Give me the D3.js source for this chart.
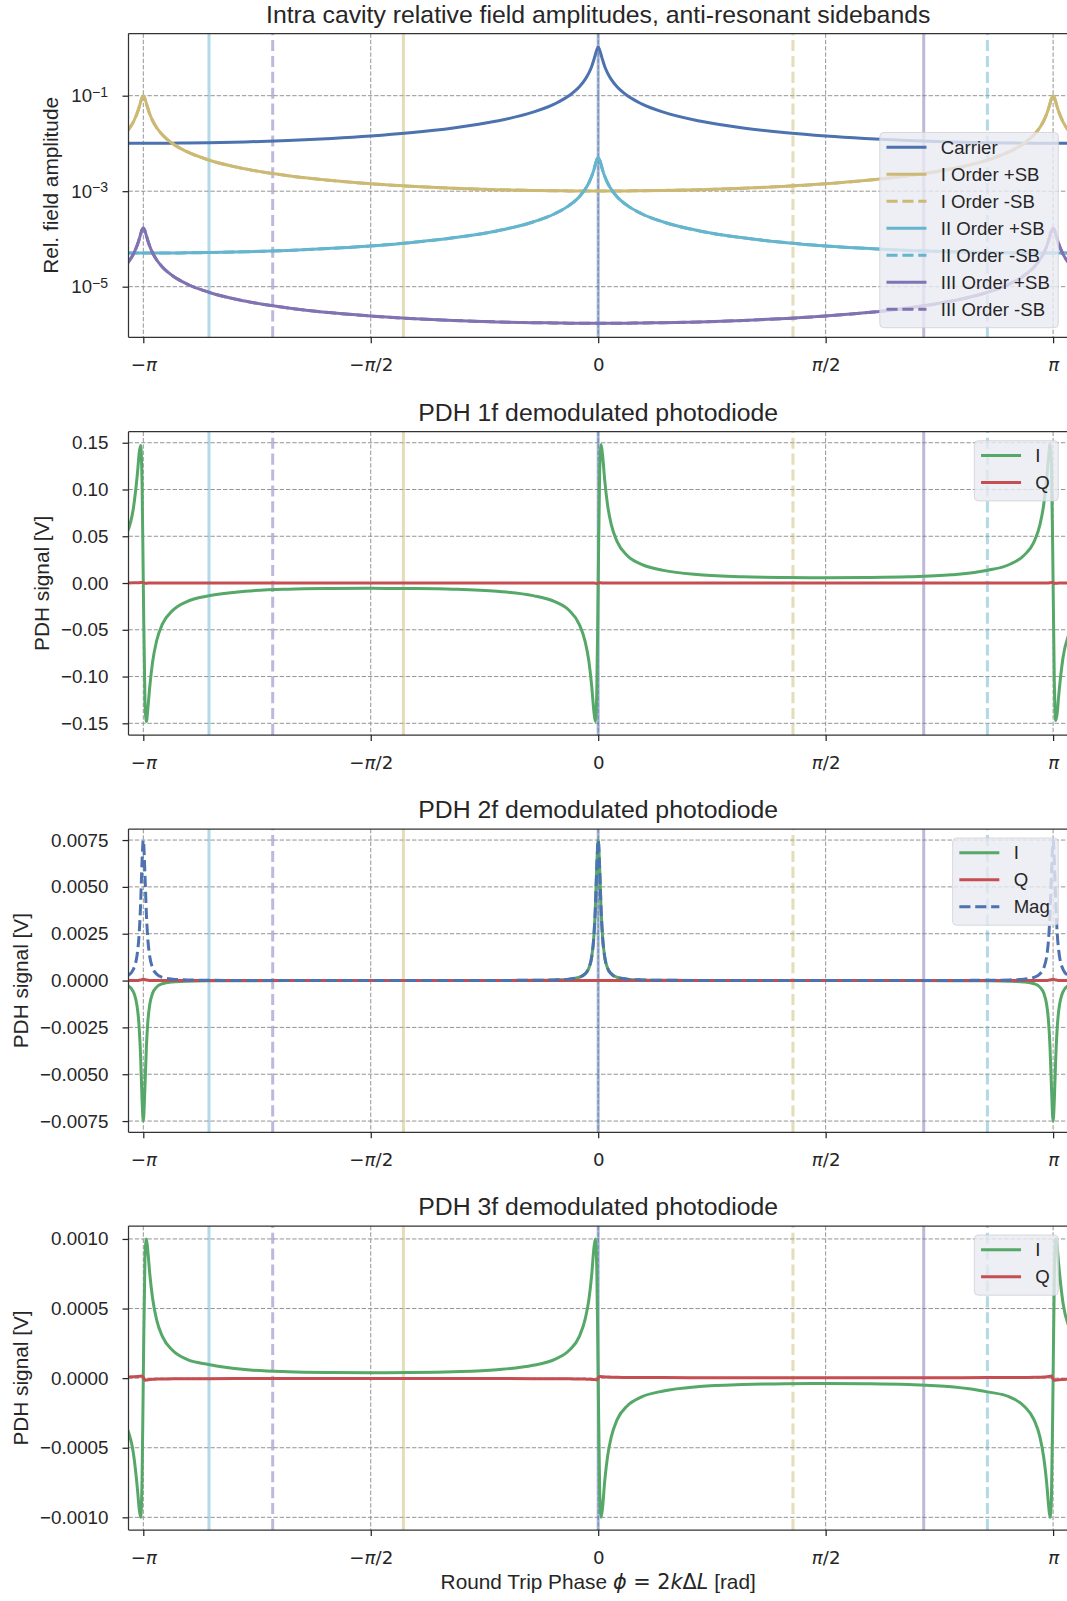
<!DOCTYPE html>
<html>
<head>
<meta charset="utf-8">
<script src="https://cdn.jsdelivr.net/npm/d3@7/dist/d3.min.js"></script>
<style>
  html,body{margin:0;padding:0;background:#fff;}
  svg{display:block;}
  text{white-space:pre;}
</style>
</head>
<body>
<script>
// ---------------- DATA ----------------
const phase = [-3.25,-3.21,-3.18,-3.17,-3.16,-3.15, -3.1416, -3.13,-3.12,-3.11,-3.097,-3.077,-3.05,-3.01,-2.94,-2.84,-2.69,-2.44,-2.14,-1.84, -1.5708, -1.3,-1.0,-0.7,-0.45,-0.3,-0.2,-0.13,-0.09,-0.065,-0.045,-0.03,-0.02,-0.01, 0, 0.01,0.02,0.03,0.045,0.065,0.09,0.13,0.2,0.3,0.45,0.7,1.0,1.3, 1.5708, 1.84,2.14,2.44,2.69,2.84,2.94,3.01,3.05,3.077,3.097,3.11,3.12,3.13, 3.1416, 3.15,3.16,3.17,3.18,3.21,3.25];

const carrier = [0.0101,0.0101,0.0101,0.0101,0.0101,0.0101, 0.0101, 0.0101,0.0101,0.0101,0.0101,0.0101,0.0101,0.0101,0.01015,0.01022,0.01037,0.01076,0.01152,0.0127, 0.01428, 0.01669,0.02107,0.02945,0.04523,0.0674,0.1007,0.1537,0.2191,0.2968,0.4096,0.565,0.72,0.91, 1.05, 0.91,0.72,0.565,0.4096,0.2968,0.2191,0.1537,0.1007,0.0674,0.04523,0.02945,0.02107,0.01669, 0.01428, 0.0127,0.01152,0.01076,0.01037,0.01022,0.01015,0.0101,0.0101,0.0101,0.0101,0.0101,0.0101,0.0101, 0.0101, 0.0101,0.0101,0.0101,0.0101,0.0101,0.0101];

const sb1Plus = [0.01833,0.02833,0.04656,0.05797,0.07393,0.09234, 0.1, 0.08672,0.06831,0.05387,0.04127,0.02985,0.02155,0.01519,0.00999,0.00671,0.004507,0.002939,0.002104,0.001667, 0.001428, 0.001269,0.001151,0.0010755,0.0010365,0.0010217,0.001015,0.00101,0.00101,0.00101,0.00101,0.00101,0.00101,0.00101, 0.00101, 0.00101,0.00101,0.00101,0.00101,0.00101,0.00101,0.00101,0.001015,0.0010217,0.0010365,0.0010755,0.001151,0.001269, 0.001428, 0.001667,0.002104,0.002939,0.004507,0.00671,0.00999,0.01519,0.02155,0.02985,0.04127,0.05387,0.06831,0.08672, 0.1, 0.09234,0.07393,0.05797,0.04656,0.02833,0.01833];
const sb1Minus = [0.01833,0.02833,0.04656,0.05797,0.07393,0.09234, 0.1, 0.08672,0.06831,0.05387,0.04127,0.02985,0.02155,0.01519,0.00999,0.00671,0.004507,0.002939,0.002104,0.001667, 0.001428, 0.001269,0.001151,0.0010755,0.0010365,0.0010217,0.001015,0.00101,0.00101,0.00101,0.00101,0.00101,0.00101,0.00101, 0.00101, 0.00101,0.00101,0.00101,0.00101,0.00101,0.00101,0.00101,0.001015,0.0010217,0.0010365,0.0010755,0.001151,0.001269, 0.001428, 0.001667,0.002104,0.002939,0.004507,0.00671,0.00999,0.01519,0.02155,0.02985,0.04127,0.05387,0.06831,0.08672, 0.1, 0.09234,0.07393,0.05797,0.04656,0.02833,0.01833];

const sb2Plus = [5.05e-5,5.05e-5,5.05e-5,5.05e-5,5.05e-5,5.05e-5, 5.05e-5, 5.05e-5,5.05e-5,5.05e-5,5.05e-5,5.05e-5,5.05e-5,5.05e-5,5.075e-5,5.11e-5,5.185e-5,5.38e-5,5.76e-5,6.35e-5, 7.14e-5, 8.35e-5,1.054e-4,1.473e-4,2.262e-4,3.37e-4,5.04e-4,7.69e-4,1.096e-3,1.484e-3,2.048e-3,2.795e-3,3.6e-3,4.55e-3, 5.1e-3, 4.55e-3,3.6e-3,2.795e-3,2.048e-3,1.484e-3,1.096e-3,7.69e-4,5.04e-4,3.37e-4,2.262e-4,1.473e-4,1.054e-4,8.35e-5, 7.14e-5, 6.35e-5,5.76e-5,5.38e-5,5.185e-5,5.11e-5,5.075e-5,5.05e-5,5.05e-5,5.05e-5,5.05e-5,5.05e-5,5.05e-5,5.05e-5, 5.05e-5, 5.05e-5,5.05e-5,5.05e-5,5.05e-5,5.05e-5,5.05e-5];
const sb2Minus = [5.05e-5,5.05e-5,5.05e-5,5.05e-5,5.05e-5,5.05e-5, 5.05e-5, 5.05e-5,5.05e-5,5.05e-5,5.05e-5,5.05e-5,5.05e-5,5.05e-5,5.075e-5,5.11e-5,5.185e-5,5.38e-5,5.76e-5,6.35e-5, 7.14e-5, 8.35e-5,1.054e-4,1.473e-4,2.262e-4,3.37e-4,5.04e-4,7.69e-4,1.096e-3,1.484e-3,2.048e-3,2.795e-3,3.6e-3,4.55e-3, 5.1e-3, 4.55e-3,3.6e-3,2.795e-3,2.048e-3,1.484e-3,1.096e-3,7.69e-4,5.04e-4,3.37e-4,2.262e-4,1.473e-4,1.054e-4,8.35e-5, 7.14e-5, 6.35e-5,5.76e-5,5.38e-5,5.185e-5,5.11e-5,5.075e-5,5.05e-5,5.05e-5,5.05e-5,5.05e-5,5.05e-5,5.05e-5,5.05e-5, 5.05e-5, 5.05e-5,5.05e-5,5.05e-5,5.05e-5,5.05e-5,5.05e-5];

const sb3Plus = [3.12e-5,4.82e-5,7.92e-5,9.86e-5,1.257e-4,1.57e-4, 1.7e-4, 1.474e-4,1.161e-4,9.16e-5,7.02e-5,5.07e-5,3.66e-5,2.58e-5,1.7e-5,1.14e-5,7.66e-6,5.0e-6,3.58e-6,2.83e-6, 2.43e-6, 2.16e-6,1.96e-6,1.83e-6,1.76e-6,1.74e-6,1.725e-6,1.717e-6,1.717e-6,1.717e-6,1.717e-6,1.717e-6,1.717e-6,1.717e-6, 1.717e-6, 1.717e-6,1.717e-6,1.717e-6,1.717e-6,1.717e-6,1.717e-6,1.717e-6,1.725e-6,1.74e-6,1.76e-6,1.83e-6,1.96e-6,2.16e-6, 2.43e-6, 2.83e-6,3.58e-6,5.0e-6,7.66e-6,1.14e-5,1.7e-5,2.58e-5,3.66e-5,5.07e-5,7.02e-5,9.16e-5,1.161e-4,1.474e-4, 1.7e-4, 1.57e-4,1.257e-4,9.86e-5,7.92e-5,4.82e-5,3.12e-5];
const sb3Minus = [3.12e-5,4.82e-5,7.92e-5,9.86e-5,1.257e-4,1.57e-4, 1.7e-4, 1.474e-4,1.161e-4,9.16e-5,7.02e-5,5.07e-5,3.66e-5,2.58e-5,1.7e-5,1.14e-5,7.66e-6,5.0e-6,3.58e-6,2.83e-6, 2.43e-6, 2.16e-6,1.96e-6,1.83e-6,1.76e-6,1.74e-6,1.725e-6,1.717e-6,1.717e-6,1.717e-6,1.717e-6,1.717e-6,1.717e-6,1.717e-6, 1.717e-6, 1.717e-6,1.717e-6,1.717e-6,1.717e-6,1.717e-6,1.717e-6,1.717e-6,1.725e-6,1.74e-6,1.76e-6,1.83e-6,1.96e-6,2.16e-6, 2.43e-6, 2.83e-6,3.58e-6,5.0e-6,7.66e-6,1.14e-5,1.7e-5,2.58e-5,3.66e-5,5.07e-5,7.02e-5,9.16e-5,1.161e-4,1.474e-4, 1.7e-4, 1.57e-4,1.257e-4,9.86e-5,7.92e-5,4.82e-5,3.12e-5];

const pdh1I = [0.055,0.080,0.121,0.139,0.147,0.106, 0, -0.128,-0.148,-0.134,-0.111,-0.084,-0.062,-0.044,-0.0295,-0.0198,-0.0136,-0.0088,-0.0066,-0.0059, -0.0057, -0.0059,-0.0066,-0.0088,-0.0135,-0.0199,-0.0294,-0.0445,-0.0627,-0.083,-0.110,-0.137,-0.148,-0.118, 0, 0.118,0.148,0.137,0.110,0.083,0.0627,0.0445,0.0294,0.0199,0.0135,0.0088,0.0066,0.0059, 0.0057, 0.0059,0.0066,0.0088,0.0136,0.0198,0.0295,0.044,0.062,0.084,0.111,0.134,0.148,0.128, 0, -0.106,-0.147,-0.139,-0.121,-0.080,-0.055];
const pdh1Q = [0.0001,0.0002,0.0003,0.0004,0.0005,0.0006, 0.0006, -0.0003,-0.0002,-0.0001,0,0,0,0,0,0,0,0,0,0, 0, 0,0,0,0,0,0,0,0,0,0,0,-0.0002,-0.0004, 0, 0.0004,0.0002,0,0,0,0,0,0,0,0,0,0,0, 0, 0,0,0,0,0,0,0,0,0,0,0.0001,0.0003,0.0005, 0.0006, -0.0004,-0.0003,-0.0002,-0.0001,0,0];

const pdh2I = [-0.00025,-0.0006,-0.00163,-0.00252,-0.0041,-0.0064, -0.0075, -0.00564,-0.0035,-0.00218,-0.00128,-0.00067,-0.00035,-0.00017,-0.000075,-0.000034,-0.000015,-0.0000065,-0.0000025,-0.0000009, 0, 0.0000009,0.0000025,0.0000065,0.000015,0.000034,0.000076,0.000177,0.00036,0.00066,0.00126,0.00234,0.00379,0.00602, 0.0075, 0.00602,0.00379,0.00234,0.00126,0.00066,0.00036,0.000177,0.000076,0.000034,0.000015,0.0000065,0.0000025,0.0000009, 0, -0.0000009,-0.0000025,-0.0000065,-0.000015,-0.000034,-0.000075,-0.00017,-0.00035,-0.00067,-0.00128,-0.00218,-0.0035,-0.00564, -0.0075, -0.0064,-0.0041,-0.00252,-0.00163,-0.0006,-0.00025];
const pdh2Q = [0,0,0,0.00002,0.00003,0.00005, 0.00007, 0.00005,0.00003,0.00002,0,0,0,0,0,0,0,0,0,0, 0, 0,0,0,0,0,0,0,0,0,0,0,0,0, 0, 0,0,0,0,0,0,0,0,0,0,0,0,0, 0, 0,0,0,0,0,0,0,0,0,0,0.00002,0.00003,0.00005, 0.00007, 0.00005,0.00003,0.00002,0,0,0];
const pdh2Mag = [0.00025,0.0006,0.00163,0.00252,0.0041,0.0064, 0.0075, 0.00564,0.0035,0.00218,0.00128,0.00067,0.00035,0.00017,0.000075,0.000034,0.000015,0.0000065,0.0000025,0.0000009, 0.0000002, 0.0000009,0.0000025,0.0000065,0.000015,0.000034,0.000076,0.000177,0.00036,0.00066,0.00126,0.00234,0.00379,0.00602, 0.0075, 0.00602,0.00379,0.00234,0.00126,0.00066,0.00036,0.000177,0.000076,0.000034,0.000015,0.0000065,0.0000025,0.0000009, 0.0000002, 0.0000009,0.0000025,0.0000065,0.000015,0.000034,0.000075,0.00017,0.00035,0.00067,0.00128,0.00218,0.0035,0.00564, 0.0075, 0.0064,0.0041,0.00252,0.00163,0.0006,0.00025];

const pdh3I = [-0.00037,-0.00054,-0.00082,-0.00094,-0.001,-0.00072, 0, 0.00087,0.001,0.00091,0.00075,0.00057,0.00042,0.0003,0.0002,0.000135,0.0000986,0.000062,0.0000455,0.00004, 0.0000385, 0.00004,0.0000455,0.00006,0.000092,0.000135,0.0002,0.0003,0.000424,0.00056,0.00074,0.00093,0.001,0.0008, 0, -0.0008,-0.001,-0.00093,-0.00074,-0.00056,-0.000424,-0.0003,-0.0002,-0.000135,-0.000092,-0.00006,-0.0000455,-0.00004, -0.0000385, -0.00004,-0.0000455,-0.000062,-0.0000986,-0.000135,-0.0002,-0.0003,-0.00042,-0.00057,-0.00075,-0.00091,-0.001,-0.00087, 0, 0.00072,0.001,0.00094,0.00082,0.00054,0.00037];
const pdh3Q = [0.000008,0.00001,0.000012,0.000013,0.000014,0.000015, 0.000005, -0.000015,-0.000014,-0.000012,-0.00001,-0.000008,-0.000007,-0.000006,-0.000005,-0.000004,-0.000004,-0.000003,-0.000003,-0.000003, -0.000003, -0.000003,-0.000003,-0.000003,-0.000004,-0.000004,-0.000005,-0.000006,-0.000007,-0.000008,-0.000009,-0.00001,-0.000011,-0.000012, 0, 0.000012,0.000011,0.00001,0.000009,0.000008,0.000007,0.000006,0.000005,0.000004,0.000004,0.000003,0.000003,0.000003, 0.000003, 0.000003,0.000003,0.000003,0.000004,0.000004,0.000005,0.000006,0.000007,0.000008,0.00001,0.000012,0.000014,0.000015, -0.000005, -0.000015,-0.000014,-0.000013,-0.000012,-0.00001,-0.000008];

// resonance markers (vertical lines)
const markerPhase = [-2.688, -2.248, -1.345, 0, 1.345, 2.248, 2.688];
const markerOrder = ["II +SB", "III -SB", "I +SB", "Carrier", "I -SB", "III +SB", "II -SB"];

// ticks / labels
const xTickValues = [-Math.PI, -Math.PI/2, 0, Math.PI/2, Math.PI];
const xTickLabels = ["−π", "−π/2", "0", "π/2", "π"];
const logTickValues = [1e-5, 1e-3, 1e-1];
const logTickExponents = ["−5", "−3", "−1"];
const ticks1f = [-0.15, -0.10, -0.05, 0, 0.05, 0.10, 0.15];
const ticks2f = [-0.0075, -0.005, -0.0025, 0, 0.0025, 0.005, 0.0075];
const ticks3f = [-0.001, -0.0005, 0, 0.0005, 0.001];
const titles = ["Intra cavity relative field amplitudes, anti-resonant sidebands",
                "PDH 1f demodulated photodiode", "PDH 2f demodulated photodiode", "PDH 3f demodulated photodiode"];
const yLabels = ["Rel. field amplitude", "PDH signal [V]", "PDH signal [V]", "PDH signal [V]"];
const legendTop = ["Carrier", "I Order +SB", "I Order -SB", "II Order +SB", "II Order -SB", "III Order +SB", "III Order -SB"];
const legendPDH = ["I", "Q", "Mag"];

// ---------------- RENDER ----------------
const W = 1067, H = 1601;
const SANS = "'Liberation Sans', Arial, Helvetica, sans-serif";
const MATH = "'DejaVu Sans', 'Liberation Sans', sans-serif";
const INK = "#262626";
const COL = {blue:"#4C72B0", green:"#55A868", red:"#C44E52", purple:"#8172B2", yellow:"#CCB974", cyan:"#64B5CD"};
const DASH = "11.1,4.8";

const svg = d3.select("body").append("svg").attr("width", W).attr("height", H);
svg.append("rect").attr("width", W).attr("height", H).attr("fill", "#fff");
const defs = svg.append("defs");

const X0 = 128.5, X1 = 1067.9, XC = (X0 + X1) / 2;
const x = d3.scaleLinear().domain([-3.2438, 3.2438]).range([X0, X1]);

const orderColor = o => o === "Carrier" ? COL.blue : o.startsWith("III") ? COL.purple : o.startsWith("II") ? COL.cyan : COL.yellow;

const panels = [
  { top:33.5, bottom:337.3, log:true, domain:[8.71e-7, 2.007], yTicks:logTickValues, ylabelX:57.5,
    series:[
      {name:legendTop[0], values:carrier, color:COL.blue},
      {name:legendTop[1], values:sb1Plus, color:COL.yellow},
      {name:legendTop[2], values:sb1Minus, color:COL.yellow, dash:true},
      {name:legendTop[3], values:sb2Plus, color:COL.cyan},
      {name:legendTop[4], values:sb2Minus, color:COL.cyan, dash:true},
      {name:legendTop[5], values:sb3Plus, color:COL.purple},
      {name:legendTop[6], values:sb3Minus, color:COL.purple, dash:true}
    ], legendBottom:327.7 },
  { top:431.7, bottom:735, domain:[-0.1625, 0.1618], yTicks:ticks1f, fmt:d3.format(".2f"), ylabelX:49,
    series:[
      {name:legendPDH[0], values:pdh1I, color:COL.green},
      {name:legendPDH[1], values:pdh1Q, color:COL.red}
    ] },
  { top:829, bottom:1132.3, domain:[-0.0081, 0.00809], yTicks:ticks2f, fmt:d3.format(".4f"), ylabelX:27.5,
    series:[
      {name:legendPDH[0], values:pdh2I, color:COL.green},
      {name:legendPDH[1], values:pdh2Q, color:COL.red},
      {name:legendPDH[2], values:pdh2Mag, color:COL.blue, dash:true}
    ] },
  { top:1226, bottom:1530, domain:[-0.001091, 0.001093], yTicks:ticks3f, fmt:d3.format(".4f"), ylabelX:27.5,
    series:[
      {name:legendPDH[0], values:pdh3I, color:COL.green},
      {name:legendPDH[1], values:pdh3Q, color:COL.red}
    ] }
];

panels.forEach((p, pi) => {
  const y = (p.log ? d3.scaleLog() : d3.scaleLinear()).domain(p.domain).range([p.bottom, p.top]);
  const g = svg.append("g");
  const cid = "clip" + pi;
  defs.append("clipPath").attr("id", cid).append("rect")
    .attr("x", X0).attr("y", p.top).attr("width", X1 - X0).attr("height", p.bottom - p.top);

  // grid
  const grid = g.append("g").attr("stroke", "#949494").attr("stroke-width", 1).attr("stroke-dasharray", "4.4,1.9");
  grid.selectAll("line.gx").data(xTickValues).join("line").attr("class","gx")
    .attr("x1", d => x(d)).attr("x2", d => x(d)).attr("y1", p.top).attr("y2", p.bottom);
  grid.selectAll("line.gy").data(p.yTicks).join("line").attr("class","gy")
    .attr("x1", X0).attr("x2", X1).attr("y1", d => y(d)).attr("y2", d => y(d));

  // resonance markers
  const mk = g.append("g").attr("clip-path", `url(#${cid})`);
  mk.selectAll("line").data(markerPhase.map((v, i) => ({v, o: markerOrder[i]}))).join("line")
    .attr("x1", d => x(d.v)).attr("x2", d => x(d.v)).attr("y1", p.bottom).attr("y2", p.top)
    .attr("stroke", d => orderColor(d.o)).attr("stroke-opacity", 0.5).attr("stroke-width", 3)
    .attr("stroke-dasharray", d => d.o.includes("-SB") ? DASH : null);

  // curves
  const line = d3.line().x(d => x(d[0])).y(d => y(d[1])).curve(d3.curveMonotoneX);
  const cg = g.append("g").attr("clip-path", `url(#${cid})`);
  p.series.forEach(s => {
    cg.append("path").datum(phase.map((ph, i) => [ph, s.values[i]]))
      .attr("d", line).attr("fill", "none").attr("stroke", s.color).attr("stroke-width", 3)
      .attr("stroke-linejoin", "round").attr("stroke-dasharray", s.dash ? DASH : null);
  });

  // spines
  const sp = g.append("g").attr("stroke", "#333").attr("stroke-width", 1.25);
  sp.append("line").attr("x1", X0).attr("x2", X0).attr("y1", p.top).attr("y2", p.bottom);
  sp.append("line").attr("x1", X0).attr("x2", X1).attr("y1", p.bottom).attr("y2", p.bottom);
  sp.append("line").attr("x1", X0).attr("x2", X1).attr("y1", p.top).attr("y2", p.top);
  sp.append("line").attr("x1", X1).attr("x2", X1).attr("y1", p.top).attr("y2", p.bottom);

  // x axis
  const gx = g.append("g").attr("transform", `translate(0,${p.bottom})`)
    .call(d3.axisBottom(x).tickValues(xTickValues).tickSize(6).tickSizeOuter(0).tickFormat(""));
  gx.select(".domain").remove();
  gx.selectAll(".tick line").attr("stroke", INK).attr("stroke-width", 1.25);
  gx.selectAll(".tick text").remove();
  gx.selectAll(".tick").each(function(d) {
    const lab = xTickLabels[xTickValues.indexOf(d)];
    const t = d3.select(this).append("text").attr("y", 34).attr("text-anchor", "middle")
      .attr("font-family", MATH).attr("font-size", 18.2).attr("fill", INK);
    lab.split(/(π)/).filter(s => s.length).forEach(part => {
      t.append("tspan").text(part).attr("font-style", part === "π" ? "italic" : null);
    });
  });

  // y axis
  const gy = g.append("g").attr("transform", `translate(${X0},0)`)
    .call(d3.axisLeft(y).tickValues(p.yTicks).tickSize(6).tickSizeOuter(0).tickPadding(14)
      .tickFormat(p.log ? "" : p.fmt));
  gy.select(".domain").remove();
  gy.attr("font-family", SANS).attr("font-size", 18.8);
  gy.selectAll(".tick line").attr("stroke", INK).attr("stroke-width", 1.25);
  gy.selectAll(".tick text").attr("fill", INK);
  if (p.log) {
    gy.selectAll(".tick text").remove();
    gy.selectAll(".tick").each(function(d) {
      const e = logTickExponents[logTickValues.indexOf(d)];
      const t = d3.select(this).append("text").attr("x", -20.5).attr("y", 6)
        .attr("text-anchor", "end").attr("fill", INK).attr("font-family", SANS);
      t.append("tspan").text("10").attr("font-size", 18.6);
      t.append("tspan").text(e).attr("font-size", 14).attr("dy", -5.5);
    });
  }

  // title
  g.append("text").attr("x", XC).attr("y", p.top - 11).attr("text-anchor", "middle")
    .attr("font-family", SANS).attr("font-size", 24.8).attr("fill", INK).text(titles[pi]);

  // y label
  g.append("text").attr("transform", `translate(${p.ylabelX},${(p.top + p.bottom) / 2}) rotate(-90)`)
    .attr("text-anchor", "middle").attr("font-family", SANS).attr("font-size", 20.8).attr("fill", INK)
    .text(yLabels[pi]);

  // legend
  const n = p.series.length;
  const boxH = 14.8 + (n - 1) * 27 + 18.4;
  const boxTop = p.legendBottom ? p.legendBottom - boxH : p.top + 9;
  const right = 1058.3;
  const lg = g.append("g");
  const texts = p.series.map((s, i) => lg.append("text")
    .attr("font-family", SANS).attr("font-size", 18.6).attr("fill", INK)
    .attr("dominant-baseline", "central").attr("y", boxTop + 14.8 + i * 27).text(s.name));
  const maxW = d3.max(texts, t => t.node().getComputedTextLength());
  const boxW = 61 + maxW + 8.5;
  const left = right - boxW;
  lg.insert("rect", ":first-child").attr("x", left).attr("y", boxTop).attr("width", boxW).attr("height", boxH)
    .attr("rx", 4).attr("fill", "#EAEAF2").attr("fill-opacity", 0.8)
    .attr("stroke", "#cfcfd6").attr("stroke-opacity", 0.8).attr("stroke-width", 1);
  texts.forEach(t => t.attr("x", left + 61));
  p.series.forEach((s, i) => {
    const yy = boxTop + 14.8 + i * 27;
    lg.append("line").attr("x1", left + 6.7).attr("x2", left + 46.7).attr("y1", yy).attr("y2", yy)
      .attr("stroke", s.color).attr("stroke-width", 3).attr("stroke-dasharray", s.dash ? DASH : null);
  });
});

// x label
const xl = svg.append("text").attr("x", XC).attr("y", 1589).attr("text-anchor", "middle")
  .attr("font-size", 20.8).attr("fill", INK);
[["Round Trip Phase ", SANS, null], ["ϕ", MATH, "italic"], [" = 2", MATH, null], ["k", MATH, "italic"],
 ["Δ", MATH, null], ["L", MATH, "italic"], [" [rad]", SANS, null]].forEach(([t, f, st]) => {
  xl.append("tspan").text(t).attr("font-family", f).attr("font-style", st);
});
</script>
</body>
</html>
